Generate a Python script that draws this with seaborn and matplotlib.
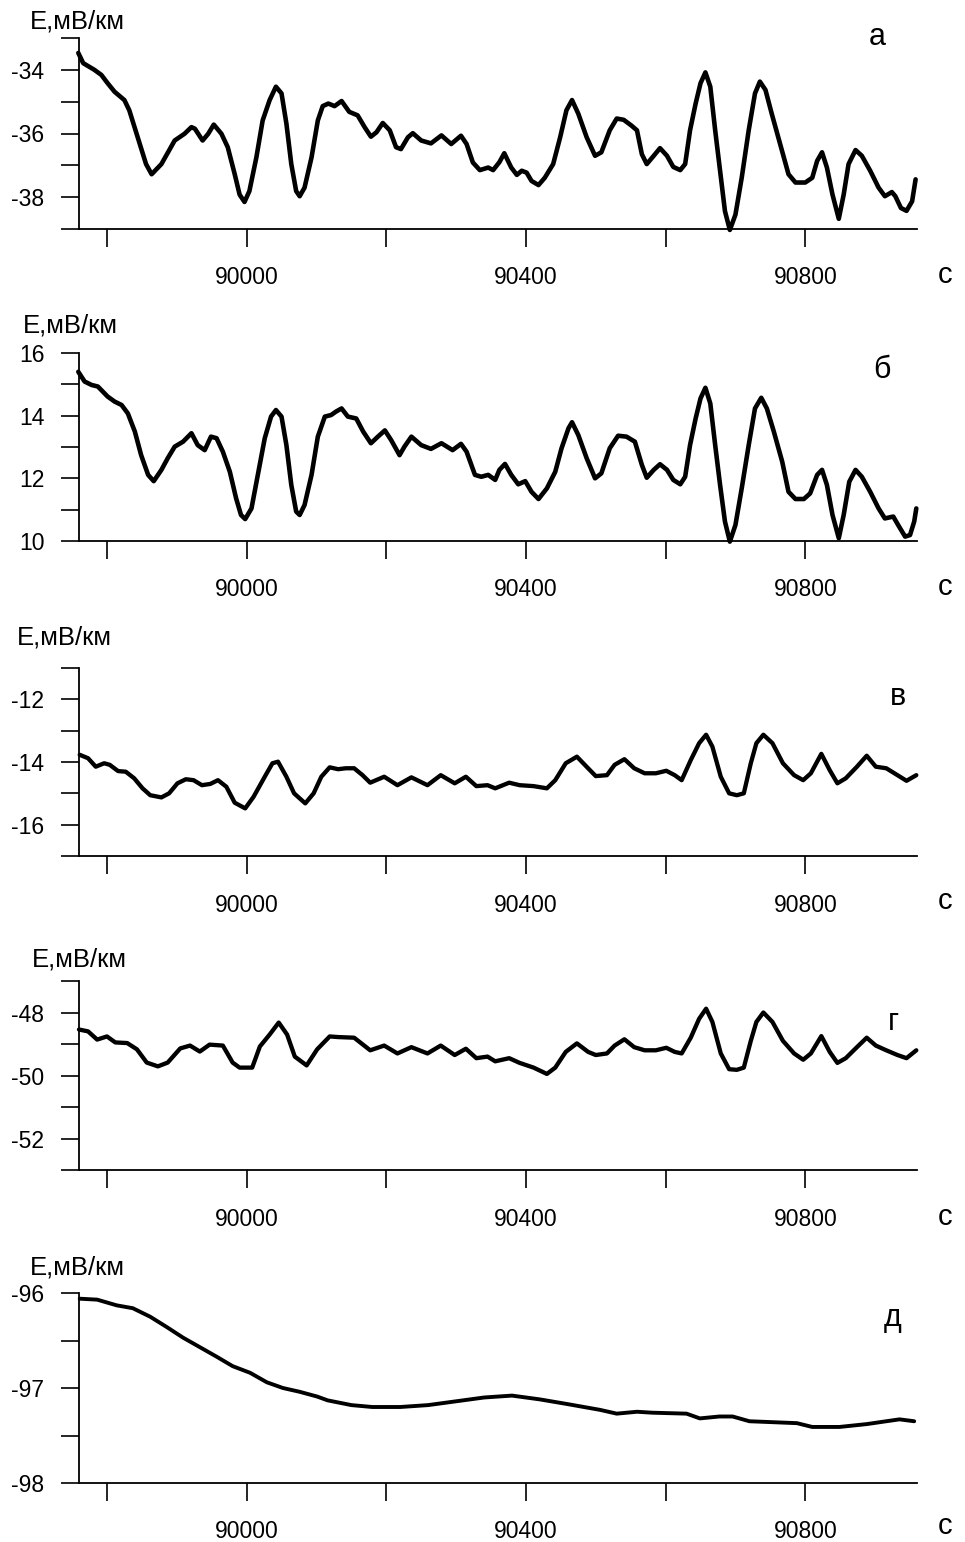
import matplotlib
matplotlib.use("Agg")
import matplotlib.pyplot as plt
from matplotlib.ticker import FixedLocator, NullFormatter
import seaborn as sns

# ── Data ─────────────────────────────────────────────────────────────────────
# panel а
t_a = [89759, 89766, 89782, 89792, 89801, 89811, 89825, 89832, 89844, 89856,
       89864, 89878, 89897, 89911, 89921, 89926, 89937, 89945, 89953, 89964,
       89973, 89983, 89990, 89997, 90004, 90014, 90023, 90033, 90042, 90050,
       90057, 90064, 90071, 90076, 90083, 90093, 90102, 90109, 90117, 90126,
       90136, 90147, 90159, 90169, 90178, 90186, 90195, 90205, 90214, 90221,
       90231, 90238, 90250, 90264, 90279, 90293, 90307, 90315, 90324, 90334,
       90346, 90353, 90362, 90369, 90379, 90387, 90394, 90401, 90408, 90418,
       90427, 90439, 90449, 90458, 90466, 90475, 90487, 90499, 90508, 90520,
       90530, 90540, 90551, 90559, 90566, 90573, 90583, 90592, 90602, 90611,
       90621, 90628, 90635, 90643, 90650, 90657, 90664, 90671, 90678, 90685,
       90692, 90700, 90709, 90719, 90728, 90735, 90743, 90752, 90764, 90776,
       90786, 90800, 90810, 90817, 90824, 90831, 90839, 90848, 90855, 90862,
       90872, 90881, 90893, 90905, 90914, 90924, 90929, 90937, 90945, 90953, 90958]
e_a = [-33.47, -33.79, -34.00, -34.16, -34.42, -34.69, -34.95, -35.27, -36.12, -36.96,
       -37.28, -36.96, -36.22, -36.01, -35.80, -35.85, -36.22, -36.01, -35.72, -36.01,
       -36.43, -37.28, -37.92, -38.15, -37.81, -36.75, -35.59, -34.95, -34.53, -34.74,
       -35.69, -36.96, -37.81, -37.97, -37.70, -36.75, -35.59, -35.14, -35.06, -35.14,
       -34.98, -35.32, -35.43, -35.80, -36.10, -35.96, -35.67, -35.90, -36.43, -36.49,
       -36.12, -35.99, -36.22, -36.31, -36.06, -36.33, -36.07, -36.33, -36.91, -37.15,
       -37.07, -37.15, -36.90, -36.62, -37.07, -37.30, -37.17, -37.23, -37.49, -37.62,
       -37.39, -36.96, -36.12, -35.27, -34.95, -35.38, -36.12, -36.70, -36.59, -35.90,
       -35.53, -35.57, -35.75, -35.90, -36.65, -36.96, -36.70, -36.46, -36.70, -37.05,
       -37.15, -36.96, -35.90, -35.06, -34.42, -34.08, -34.53, -35.90, -37.17, -38.44,
       -39.03, -38.55, -37.39, -35.90, -34.74, -34.37, -34.63, -35.38, -36.33, -37.28,
       -37.54, -37.54, -37.39, -36.86, -36.59, -37.07, -37.92, -38.68, -37.92, -36.96,
       -36.52, -36.70, -37.17, -37.70, -37.97, -37.84, -37.97, -38.34, -38.43, -38.13, -37.44]

# panel б
t_b = [89759, 89768, 89778, 89787, 89801, 89811, 89821, 89830, 89840, 89849,
       89859, 89867, 89878, 89887, 89897, 89909, 89921, 89930, 89940, 89949,
       89957, 89966, 89976, 89985, 89992, 89998, 90007, 90016, 90026, 90035,
       90042, 90050, 90057, 90064, 90071, 90076, 90083, 90093, 90102, 90112,
       90121, 90128, 90136, 90145, 90157, 90167, 90178, 90188, 90198, 90207,
       90219, 90226, 90236, 90250, 90264, 90279, 90295, 90307, 90315, 90327,
       90336, 90346, 90356, 90362, 90370, 90379, 90389, 90399, 90408, 90418,
       90430, 90442, 90451, 90461, 90466, 90475, 90487, 90499, 90508, 90520,
       90532, 90544, 90556, 90566, 90573, 90583, 90592, 90602, 90611, 90621,
       90628, 90635, 90643, 90650, 90657, 90664, 90671, 90678, 90685, 90692,
       90700, 90709, 90719, 90728, 90737, 90745, 90755, 90767, 90776, 90786,
       90798, 90807, 90817, 90824, 90831, 90839, 90848, 90855, 90863, 90872,
       90881, 90893, 90905, 90914, 90926, 90933, 90943, 90950, 90956, 90959]
e_b = [15.40, 15.09, 14.98, 14.93, 14.61, 14.45, 14.34, 14.07, 13.49, 12.74,
       12.11, 11.91, 12.27, 12.64, 13.01, 13.17, 13.44, 13.06, 12.90, 13.33,
       13.28, 12.85, 12.21, 11.36, 10.83, 10.70, 11.04, 12.11, 13.28, 13.97,
       14.18, 13.97, 13.06, 11.79, 10.94, 10.83, 11.15, 12.11, 13.33, 13.97,
       14.02, 14.13, 14.23, 13.97, 13.91, 13.49, 13.12, 13.33, 13.53, 13.22,
       12.74, 13.01, 13.33, 13.06, 12.94, 13.12, 12.90, 13.10, 12.85, 12.11,
       12.05, 12.11, 11.95, 12.27, 12.46, 12.11, 11.81, 11.91, 11.57, 11.34,
       11.68, 12.21, 12.96, 13.60, 13.79, 13.38, 12.64, 12.00, 12.16, 12.96,
       13.36, 13.33, 13.17, 12.43, 12.02, 12.27, 12.45, 12.27, 11.95, 11.81,
       12.05, 13.06, 13.91, 14.55, 14.89, 14.39, 13.06, 11.79, 10.62, 9.98,
       10.51, 11.68, 13.06, 14.23, 14.57, 14.23, 13.49, 12.53, 11.57, 11.34,
       11.34, 11.52, 12.11, 12.27, 11.79, 10.83, 10.09, 10.83, 11.89, 12.27,
       12.05, 11.57, 11.04, 10.72, 10.78, 10.51, 10.14, 10.19, 10.62, 11.04]

# panel в
t_v = [89761, 89773, 89784, 89796, 89804, 89816, 89827, 89839, 89851, 89862,
       89878, 89889, 89901, 89913, 89924, 89936, 89948, 89959, 89971, 89983,
       89998, 90010, 90026, 90037, 90045, 90057, 90068, 90084, 90096, 90107,
       90119, 90131, 90142, 90154, 90166, 90177, 90197, 90216, 90236, 90259,
       90278, 90298, 90314, 90329, 90345, 90356, 90376, 90391, 90411, 90430,
       90442, 90457, 90473, 90489, 90500, 90516, 90527, 90541, 90555, 90570,
       90586, 90601, 90613, 90623, 90636, 90648, 90658, 90667, 90679, 90691,
       90702, 90712, 90722, 90730, 90740, 90753, 90768, 90784, 90797, 90808,
       90823, 90835, 90846, 90858, 90874, 90888, 90901, 90916, 90932, 90945, 90959]
e_v = [-13.77, -13.88, -14.15, -14.04, -14.09, -14.29, -14.31, -14.52, -14.84, -15.06,
       -15.13, -15.00, -14.68, -14.55, -14.58, -14.74, -14.70, -14.58, -14.79, -15.30,
       -15.48, -15.11, -14.47, -14.04, -13.99, -14.47, -15.00, -15.32, -15.00, -14.47,
       -14.17, -14.23, -14.20, -14.20, -14.42, -14.66, -14.47, -14.74, -14.49, -14.74,
       -14.42, -14.68, -14.47, -14.77, -14.74, -14.84, -14.66, -14.74, -14.77, -14.84,
       -14.58, -14.04, -13.83, -14.20, -14.45, -14.42, -14.09, -13.91, -14.20, -14.36,
       -14.36, -14.28, -14.42, -14.58, -13.94, -13.40, -13.13, -13.51, -14.47, -15.00,
       -15.06, -15.00, -14.04, -13.40, -13.13, -13.40, -14.04, -14.42, -14.58, -14.36,
       -13.74, -14.26, -14.68, -14.52, -14.15, -13.80, -14.15, -14.20, -14.42, -14.60, -14.42]

# panel г
t_g = [89760, 89773, 89786, 89800, 89812, 89829, 89843, 89857, 89873, 89887,
       89905, 89919, 89933, 89947, 89966, 89980, 89990, 90008, 90019, 90033,
       90046, 90058, 90069, 90086, 90101, 90119, 90131, 90154, 90177, 90197,
       90216, 90236, 90259, 90278, 90298, 90314, 90329, 90345, 90356, 90376,
       90391, 90411, 90430, 90442, 90457, 90473, 90489, 90500, 90516, 90527,
       90541, 90555, 90570, 90586, 90601, 90613, 90623, 90636, 90648, 90658,
       90667, 90679, 90691, 90702, 90712, 90722, 90730, 90740, 90753, 90768,
       90784, 90797, 90808, 90823, 90835, 90846, 90858, 90874, 90888, 90901,
       90916, 90932, 90945, 90959]
e_g = [-48.54, -48.60, -48.86, -48.76, -48.95, -48.97, -49.17, -49.59, -49.71, -49.59,
       -49.14, -49.05, -49.24, -49.02, -49.05, -49.59, -49.75, -49.75, -49.08, -48.70,
       -48.32, -48.70, -49.40, -49.68, -49.17, -48.76, -48.78, -48.80, -49.20, -49.05,
       -49.30, -49.10, -49.30, -49.05, -49.35, -49.15, -49.45, -49.40, -49.55, -49.45,
       -49.60, -49.75, -49.95, -49.75, -49.25, -48.98, -49.25, -49.35, -49.30, -49.05,
       -48.85, -49.10, -49.20, -49.20, -49.12, -49.25, -49.30, -48.80, -48.20, -47.88,
       -48.30, -49.30, -49.80, -49.82, -49.75, -48.90, -48.30, -48.00, -48.30, -48.90,
       -49.30, -49.50, -49.30, -48.75, -49.25, -49.60, -49.45, -49.10, -48.80, -49.05,
       -49.20, -49.35, -49.45, -49.20]

# panel д
t_d = [89761, 89786, 89814, 89837, 89862, 89886, 89909, 89933, 89957, 89980,
       90005, 90029, 90052, 90076, 90101, 90116, 90150, 90180, 90220, 90260,
       90300, 90340, 90380, 90420, 90460, 90506, 90530, 90559, 90581, 90630,
       90649, 90677, 90696, 90720, 90788, 90810, 90849, 90888, 90916, 90935, 90956]
e_d = [-96.06, -96.07, -96.13, -96.16, -96.25, -96.36, -96.47, -96.57, -96.67, -96.77,
       -96.84, -96.94, -97.00, -97.04, -97.09, -97.13, -97.18, -97.20, -97.20, -97.18,
       -97.14, -97.10, -97.08, -97.12, -97.17, -97.23, -97.27, -97.25, -97.26, -97.27,
       -97.32, -97.30, -97.30, -97.35, -97.37, -97.41, -97.41, -97.38, -97.35, -97.33, -97.35]

panel_letters = ["а", "б", "в", "г", "д"]
y_label = "Е,мВ/км"
x_unit = "с"

x_major = [90000, 90400, 90800]
x_minor = [89800, 90200, 90600]

y_major = [[-34, -36, -38], [10, 12, 14, 16], [-12, -14, -16], [-48, -50, -52], [-96, -97, -98]]
y_minor = [[-33, -35, -37, -39], [11, 13, 15], [-11, -13, -15, -17], [-47, -49, -51, -53], [-96.5, -97.5]]
y_lims = [(-39, -33), (10, 16), (-17, -11), (-53, -47), (-98, -96)]

series = [(t_a, e_a), (t_b, e_b), (t_v, e_v), (t_g, e_g), (t_d, e_d)]

# ── Layout (pixels of the 965x1542 reference) ────────────────────────────────
W, H = 965, 1542
ax_left, ax_right = 79, 917
ax_rows = [(38, 229), (353, 541), (668, 856), (981, 1170), (1293, 1483)]
ylab_pos = [(30, 22), (23, 325), (17, 637), (32, 960), (30, 1267)]
letter_pos = [(877, 37), (882, 370), (898, 697), (893, 1022), (893, 1318)]
unit_y = [275, 587, 901, 1217, 1526]
line_w = [3.3, 3.3, 3.1, 3.1, 2.8]

sns.set_theme(style="ticks")
plt.rcParams["font.family"] = ["Liberation Sans", "DejaVu Sans"]
plt.rcParams["text.color"] = "black"

fig = plt.figure(figsize=(W / 100, H / 100), dpi=100)

for i, ((t, e), (top, bot)) in enumerate(zip(series, ax_rows)):
    ax = fig.add_axes([ax_left / W, 1 - bot / H, (ax_right - ax_left) / W, (bot - top) / H])
    sns.lineplot(x=t, y=e, ax=ax, color="black", linewidth=line_w[i], clip_on=False)

    ax.set_xlim(89760, 90960)
    ax.set_ylim(*y_lims[i])
    ax.xaxis.set_major_locator(FixedLocator(x_major))
    ax.xaxis.set_minor_locator(FixedLocator(x_minor))
    ax.yaxis.set_major_locator(FixedLocator(y_major[i]))
    ax.yaxis.set_minor_locator(FixedLocator(y_minor[i]))
    ax.xaxis.set_minor_formatter(NullFormatter())
    ax.yaxis.set_minor_formatter(NullFormatter())
    ax.set_yticklabels([f"{v:g}" for v in y_major[i]])

    ax.tick_params(axis="both", which="both", direction="out", length=13,
                   width=1.2, color="black", labelsize=16.5, labelcolor="black")
    ax.tick_params(axis="x", which="both", pad=14)
    ax.tick_params(axis="y", which="both", pad=12)

    sns.despine(ax=ax)
    for side in ("left", "bottom"):
        ax.spines[side].set_linewidth(1.3)
        ax.spines[side].set_color("black")
    ax.set_xlabel("")
    ax.set_ylabel("")

    fig.text(ylab_pos[i][0] / W, 1 - ylab_pos[i][1] / H, y_label,
             fontsize=18.5, ha="left", va="center", color="black")
    fig.text(letter_pos[i][0] / W, 1 - letter_pos[i][1] / H, panel_letters[i],
             fontsize=22, ha="center", va="center", color="black")
    fig.text(945 / W, 1 - unit_y[i] / H, x_unit, fontsize=21,
             ha="center", va="center", color="black")

fig.savefig("out.png", dpi=100)
